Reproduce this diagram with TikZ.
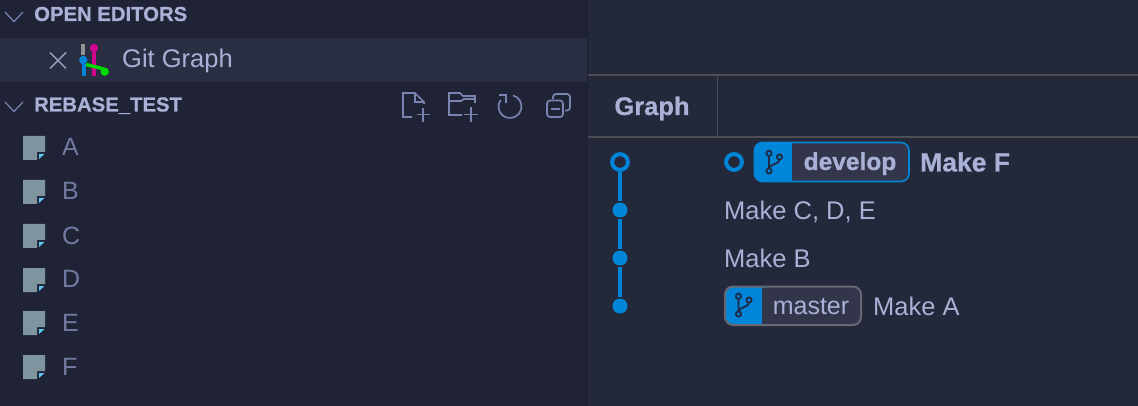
\documentclass[tikz,border=0pt]{standalone}
\usepackage{fontspec}
\setmainfont{Liberation Sans}
\newfontface\heavyfont{Liberation Sans Bold}[FakeBold=0.6]
\definecolor{sidebg}{HTML}{1F2335}
\definecolor{mainbg}{HTML}{24283B}
\definecolor{rowbg}{HTML}{292E42}
\definecolor{txt}{HTML}{A9B1D6}
\definecolor{filetxt}{HTML}{737AA2}
\definecolor{icon}{HTML}{7A84B0}
\definecolor{sep}{HTML}{4E4F55}
\definecolor{gitblue}{HTML}{0085D9}
\definecolor{badge}{HTML}{33364A}
\definecolor{badgeline}{HTML}{666870}
\definecolor{filegrey}{HTML}{7E949E}
\definecolor{filecyan}{HTML}{5CC8F2}
\definecolor{branchline}{HTML}{1F2A44}
\tikzset{
  lbl/.style={anchor=base west,inner sep=0pt,text=txt,font=\fontsize{25.5}{28}\selectfont},
  head/.style={anchor=base west,inner sep=0pt,text=txt,font=\fontsize{20.3}{24}\heavyfont},
  filename/.style={anchor=base west,inner sep=0pt,text=filetxt,font=\fontsize{25}{28}\selectfont},
  chev/.style={draw=icon,line width=1.2pt},
  tool/.style={draw=icon,line width=1.7pt},
  dot/.style={circle,fill=gitblue,inner sep=0pt,minimum size=15pt},
  ring/.style={circle,draw=gitblue,line width=4pt,fill=mainbg,inner sep=0pt,minimum size=15.8pt},
  edge/.style={draw=gitblue,line width=4pt},
}
\newcommand{\fileicon}[1]{%
  \fill[filegrey] (23,#1-12) -- (45,#1-12) -- (45,#1+4) -- (37,#1+4) -- (37,#1+12) -- (23,#1+12) -- cycle;
  \fill[filecyan] (39,#1+6) -- (44.5,#1+6) -- (39,#1+11) -- cycle;
}
\newcommand{\branchicon}[2]{%
  \begin{scope}[shift={(#1,#2)}]
    \draw[draw=branchline,line width=1.8pt] (0,-9.7) circle (2.6) (0,8) circle (2.6) (10.5,-6) circle (2.6);
    \draw[draw=branchline,line width=1.8pt] (0,-7) -- (0,5.4) (10.5,-3.4) .. controls (10.5,1.5) and (2,0) .. (0,5.4);
  \end{scope}
}
\begin{document}
\begin{tikzpicture}[x=1pt,y=-1pt,line cap=butt]
\useasboundingbox (0,0) rectangle (1138,406);
% backgrounds
\fill[sidebg] (0,0) rectangle (587,406);
\fill[mainbg] (587,0) rectangle (1138,406);
\fill[rowbg] (0,38) rectangle (587,82);
\fill[sidebg!88!black] (586.5,0) rectangle (588,406);
% tab bar lines
\fill[sep] (588,74) rectangle (1138,76);
\fill[sep] (588,136) rectangle (1138,138);
\fill[sep] (716.5,76) rectangle (718,136);
% left headers
\draw[chev] (5,12) -- (14,21.5) -- (23,12);
\node[head] (openeditors) at (34,21) {OPEN EDITORS};
\draw[chev] (5,102) -- (14,111.5) -- (23,102);
\node[head] (rebase) at (34,111.5) {REBASE\_TEST};
% close
\draw[draw=txt!85!black,line width=1.5pt] (50,52.5) -- (66,68.5) (66,52.5) -- (50,68.5);
% git graph icon
\fill[gray!85] (81,44) rectangle (85,55);
\fill[gitblue] (81.5,64) rectangle (85.5,76);
\fill[gitblue] (83.3,60) circle (4.2);
\fill[magenta!85!blue] (92,52) rectangle (96,76);
\fill[magenta!85!blue] (94,48) circle (4.2);
\draw[draw=green!85!black,line width=3.5pt] (86,64.5) -- (104,69);
\fill[green!85!black] (104.7,71.7) circle (4.2);
\node[lbl] (gitgraph) at (122,68) {Git Graph};
% toolbar icons
\draw[tool] (412,117) -- (403,117) -- (403,93) -- (415,93) -- (424,102) -- (424,104);
\draw[tool] (415,93) -- (415,102) -- (424,102);
\draw[tool] (423,108) -- (423,122) (416.5,114.5) -- (430,114.5);
\draw[tool] (462,115) -- (449,115) -- (449,93) -- (460,93) -- (463,96) -- (475,96) -- (475,103);
\draw[tool] (449,101) -- (461,101) -- (464,99) -- (475,99);
\draw[tool] (471,107) -- (471,122) (463.5,114.5) -- (478,114.5);
\draw[tool] (510,106.5) ++(-75:11.5) arc[start angle=-75,end angle=215,radius=11.5];
\draw[tool] (499,95) -- (506,95) -- (506,103);
\draw[tool,rounded corners=3pt] (547,100.5) rectangle (563,117);
\draw[tool,rounded corners=3pt] (553,99) -- (553,94) -- (570,94) -- (570,110.5) -- (565,110.5);
\draw[tool] (551,109) -- (559.5,109);
% files
\fileicon{148}\fileicon{192}\fileicon{236}\fileicon{280}\fileicon{323}\fileicon{367}
\node[filename] (fa) at (62,156) {A};
\node[filename] (fb) at (62,200) {B};
\node[filename] (fc) at (62,244) {C};
\node[filename] (fd) at (62,287.5) {D};
\node[filename] (fe) at (62,331.5) {E};
\node[filename] (ff) at (62,375.5) {F};
% graph tab
\node[anchor=base,inner sep=0pt,text=txt,font=\fontsize{25.5}{26}\heavyfont] (graphtab) at (652,115) {Graph};
% graph
\node[ring] (c1) at (620,162) {};
\node[dot] (c2) at (620,210) {};
\node[dot] (c3) at (620,258) {};
\node[dot] (c4) at (620,306) {};
\draw[edge,shorten >=1.5pt] (c1) -- (c2);
\draw[edge,shorten <=1.5pt,shorten >=1.5pt] (c2) -- (c3);
\draw[edge,shorten <=1.5pt,shorten >=1.5pt] (c3) -- (c4);
% develop row
\node[ring] (head) at (734,162) {};
\fill[badge,rounded corners=8pt] (754,142.5) rectangle (909,181.5);
\fill[gitblue,rounded corners=8pt] (754,142.5) rectangle (800,181.5);
\fill[badge] (792,143) rectangle (805,181);
\draw[draw=gitblue,line width=1.6pt,rounded corners=8pt] (754.5,142.5) rectangle (909,181.5);
\branchicon{769}{163}
\node[anchor=base,inner sep=0pt,text=txt,font=\fontsize{24.5}{26}\heavyfont] (develop) at (850,170) {develop};
\node[anchor=base west,inner sep=0pt,text=txt,font=\fontsize{26.5}{28}\heavyfont] (makef) at (920,171.5) {Make F};
\node[lbl] (makec) at (724,219.5) {Make C, D, E};
\node[lbl] (makeb) at (724,268) {Make B};
% master row
\fill[badge,rounded corners=8pt] (725,286.5) rectangle (861,325);
\fill[gitblue,rounded corners=8pt] (725,286.5) rectangle (770,325);
\fill[badge] (762,287.5) rectangle (775,324);
\draw[draw=badgeline,line width=2pt,rounded corners=8pt] (725,286.5) rectangle (861,325);
\branchicon{738.5}{306}
\node[anchor=base,inner sep=0pt,text=txt,font=\fontsize{25}{26}\selectfont] (master) at (811,314) {master};
\node[lbl] (makea) at (873,315.5) {Make A};
\end{tikzpicture}
\end{document}
